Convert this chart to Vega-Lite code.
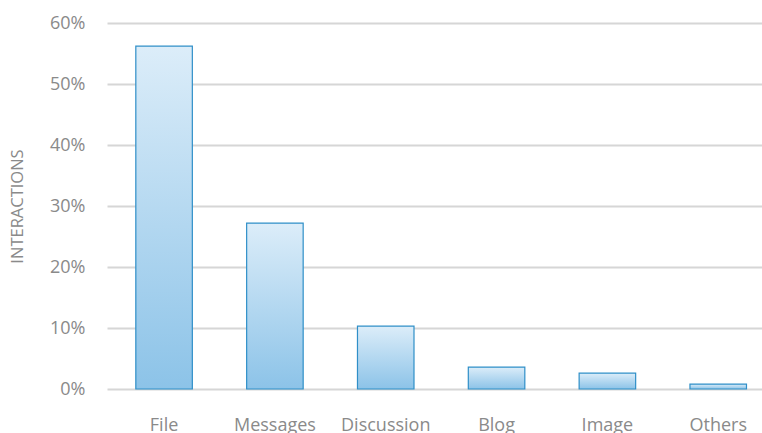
{
  "$schema": "https://vega.github.io/schema/vega-lite/v6.json",
  "autosize": {"type": "none"},
  "width": 655,
  "height": 366,
  "padding": {"left": 107, "top": 23, "right": 0, "bottom": 44},
  "background": "white",
  "config": {"view": {"stroke": null}, "font": "Open Sans"},
  "data": {"values": [
    {"category": "File", "value": 0.562},
    {"category": "Messages", "value": 0.272},
    {"category": "Discussion", "value": 0.103},
    {"category": "Blog", "value": 0.036},
    {"category": "Image", "value": 0.026},
    {"category": "Others", "value": 0.008}
  ]},
  "mark": {
    "type": "bar",
    "stroke": "#2f8fc8",
    "strokeWidth": 1.2,
    "color": {"gradient": "linear", "x1": 0, "y1": 0, "x2": 0, "y2": 1,
      "stops": [{"offset": 0, "color": "#dcedf9"}, {"offset": 1, "color": "#8cc3e8"}]}
  },
  "encoding": {
    "x": {
      "field": "category", "type": "nominal", "sort": null,
      "scale": {"paddingInner": 0.49, "paddingOuter": 0.2, "align": 0.65},
      "axis": {"title": null, "labelAngle": 0, "domain": false, "ticks": false,
        "labelPadding": 27, "labelFontSize": 18, "labelColor": "#8a8a8a", "grid": false}
    },
    "y": {
      "field": "value", "type": "quantitative",
      "scale": {"domain": [0, 0.6]},
      "axis": {"title": "INTERACTIONS", "format": ".0%", "values": [0, 0.1, 0.2, 0.3, 0.4, 0.5, 0.6],
        "labelOverlap": false,
        "domain": false, "ticks": false, "labelPadding": 22, "labelFontSize": 18, "labelColor": "#8a8a8a",
        "titleFontSize": 16.5, "titleFontWeight": "normal", "titleColor": "#8a8a8a", "titlePadding": 24,
        "gridColor": "#d6d6d6", "gridWidth": 2}
    }
  }
}
